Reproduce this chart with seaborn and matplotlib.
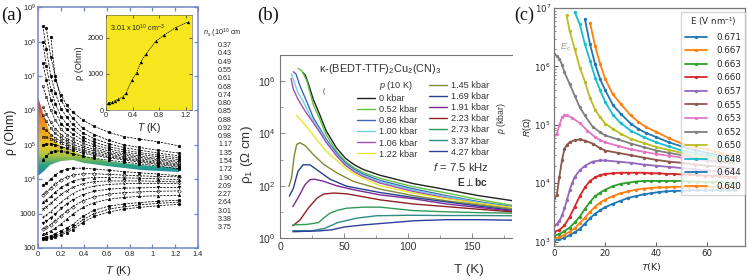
import numpy as np
import matplotlib
matplotlib.use("Agg")
import matplotlib.pyplot as plt
import seaborn as sns
from matplotlib.colors import LinearSegmentedColormap
from matplotlib.lines import Line2D
from matplotlib.patches import Polygon

W, H = 747, 280

# ---- panel a: log10(rho) on a shared temperature grid ----
temp_a = [0.04, 0.07, 0.11, 0.15, 0.2, 0.25, 0.3, 0.39, 0.49, 0.62, 0.75, 0.88, 1.05, 1.23]
nan = float("nan")
n037 = [nan, nan, 8.15, 6.88, 6.45, 6.15, 5.96, 5.72, 5.54, 5.36, 5.24, 5.17, 5.09, 4.97]
n043 = [nan, 8.39, 7.55, 7.0, 6.3, 6.0, 5.78, 5.48, 5.3, 5.13, 5.0, 4.93, 4.84, 4.76]
n049 = [8.46, 7.8, 7.0, 6.5, 6.05, 5.8, 5.6, 5.35, 5.18, 5.03, 4.92, 4.85, 4.76, 4.68]
n055 = [8.0, 7.3, 6.6, 6.2, 5.82, 5.6, 5.45, 5.22, 5.08, 4.95, 4.85, 4.78, 4.7, 4.62]
n061 = [7.37, 6.9, 6.3, 5.95, 5.62, 5.45, 5.32, 5.13, 5.0, 4.88, 4.79, 4.73, 4.65, 4.57]
n068 = [6.7, 6.4, 6.0, 5.72, 5.45, 5.3, 5.2, 5.05, 4.93, 4.82, 4.74, 4.68, 4.6, 4.52]
n074 = [6.1, 5.9, 5.65, 5.47, 5.3, 5.18, 5.1, 4.97, 4.87, 4.77, 4.7, 4.64, 4.57, 4.48]
n080 = [5.86, 5.68, 5.48, 5.33, 5.2, 5.1, 5.02, 4.91, 4.82, 4.73, 4.66, 4.6, 4.53, 4.44]
n085 = [5.48, 5.42, 5.3, 5.2, 5.1, 5.03, 4.95, 4.85, 4.77, 4.69, 4.62, 4.56, 4.49, 4.41]
n088 = [5.23, 5.22, 5.18, 5.12, 5.04, 4.97, 4.9, 4.81, 4.73, 4.65, 4.59, 4.53, 4.46, 4.38]
n092 = [5.0, 5.02, 5.03, 5.0, 4.95, 4.9, 4.84, 4.76, 4.69, 4.62, 4.56, 4.5, 4.43, 4.35]
n098 = [4.57, 4.68, 4.78, 4.82, 4.82, 4.78, 4.74, 4.67, 4.61, 4.55, 4.5, 4.45, 4.39, 4.3]
n117 = [3.83, 3.88, 4.0, 4.13, 4.24, 4.29, 4.32, 4.32, 4.3, 4.26, 4.22, 4.19, 4.15, 4.1]
n135 = [3.55, 3.62, 3.74, 3.86, 3.98, 4.06, 4.12, 4.16, 4.16, 4.14, 4.12, 4.1, 4.08, 4.07]
n154 = [3.34, 3.4, 3.5, 3.62, 3.76, 3.86, 3.94, 4.02, 4.05, 4.05, 4.04, 4.03, 4.01, 3.99]
n172 = [3.14, 3.2, 3.3, 3.42, 3.56, 3.67, 3.76, 3.87, 3.93, 3.95, 3.95, 3.95, 3.94, 3.92]
n190 = [2.9, 2.96, 3.06, 3.18, 3.33, 3.46, 3.58, 3.72, 3.8, 3.85, 3.87, 3.88, 3.88, 3.87]
n209 = [2.72, 2.78, 2.88, 3.0, 3.15, 3.28, 3.4, 3.55, 3.65, 3.71, 3.74, 3.75, 3.76, 3.76]
n227 = [2.55, 2.6, 2.68, 2.79, 2.93, 3.07, 3.2, 3.37, 3.49, 3.57, 3.61, 3.63, 3.65, 3.66]
n264 = [2.4, 2.44, 2.5, 2.58, 2.7, 2.84, 2.98, 3.18, 3.32, 3.42, 3.47, 3.5, 3.52, 3.53]
n301 = [2.3, 2.32, 2.36, 2.42, 2.5, 2.58, 2.68, 2.92, 3.1, 3.22, 3.28, 3.32, 3.36, 3.39]
n338 = [2.27, 2.29, 2.32, 2.36, 2.43, 2.5, 2.59, 2.82, 3.0, 3.13, 3.2, 3.25, 3.3, 3.33]
n375 = [2.25, 2.26, 2.28, 2.32, 2.38, 2.45, 2.53, 2.74, 2.92, 3.05, 3.13, 3.18, 3.23, 3.27]
curves_a = [n037, n043, n049, n055, n061, n068, n074, n080, n085, n088, n092, n098,
            n117, n135, n154, n172, n190, n209, n227, n264, n301, n338, n375]
labels_ns = ["0.37", "0.43", "0.49", "0.55", "0.61", "0.68", "0.74", "0.80", "0.85", "0.88", "0.92",
             "0.98", "1.17", "1.35", "1.54", "1.72", "1.90", "2.09", "2.27", "2.64", "3.01", "3.38", "3.75"]
band_temp = [0.0, 0.05, 0.1, 0.15, 0.2, 0.3, 0.4, 0.6, 0.9, 1.23]
band_top = [6.4, 5.85, 5.35, 5.12, 4.98, 4.82, 4.68, 4.52, 4.42, 4.32]
band_bot = [4.1, 4.25, 4.4, 4.48, 4.52, 4.55, 4.48, 4.38, 4.28, 4.2]

inset_temp = [0.03, 0.05, 0.09, 0.13, 0.18, 0.25, 0.3, 0.39, 0.46, 0.52, 0.6, 0.75, 0.88, 1.05, 1.23]
inset_rho = [200, 205, 225, 260, 300, 370, 470, 830, 1030, 1320, 1550, 1900, 2080, 2280, 2430]

# ---- panel b: (T, log10 rho) per pressure ----
b_0 = ([18, 20, 22, 26, 31, 36, 44, 51, 58, 65, 78, 104, 130, 155, 181],
       [6.33, 6.2, 5.92, 5.3, 4.72, 4.1, 3.45, 3.05, 2.8, 2.62, 2.4, 2.08, 1.85, 1.62, 1.43])
b_052 = ([14, 17, 21, 26, 31, 36, 44, 51, 58, 65, 78, 104, 130, 155, 181],
         [6.49, 6.4, 6.0, 5.1, 4.55, 3.95, 3.32, 2.93, 2.68, 2.5, 2.28, 1.96, 1.72, 1.47, 1.25])
b_086 = ([10.4, 12.5, 15.6, 21, 26, 31, 36, 44, 51, 58, 65, 78, 104, 130, 155, 181],
         [6.36, 6.27, 5.82, 5.2, 4.6, 4.2, 3.78, 3.25, 2.87, 2.62, 2.44, 2.2, 1.88, 1.62, 1.39, 1.2])
b_100 = ([9, 11.7, 14, 18, 23, 31, 36, 44, 51, 58, 65, 78, 104, 130, 155, 181],
         [6.27, 5.88, 5.56, 5.24, 4.73, 4.13, 3.72, 3.2, 2.82, 2.57, 2.39, 2.15, 1.83, 1.58, 1.36, 1.17])
b_106 = ([8.6, 10.4, 14, 19.5, 26, 31, 36, 44, 51, 58, 65, 78, 104, 130, 155, 181],
         [6.1, 5.69, 5.31, 4.86, 4.41, 4.05, 3.66, 3.15, 2.78, 2.53, 2.35, 2.1, 1.78, 1.53, 1.32, 1.14])
b_122 = ([13, 17, 23.4, 31, 36, 44, 51, 58, 65, 78, 104, 130, 155, 181],
         [4.69, 4.47, 4.09, 3.62, 3.32, 2.98, 2.68, 2.45, 2.28, 2.0, 1.72, 1.5, 1.33, 1.17])
b_145 = ([7, 9, 11, 13, 15.6, 19.5, 26, 34, 44, 57, 78, 104, 130, 155, 181],
         [1.97, 2.3, 3.12, 3.58, 3.64, 3.54, 3.19, 2.82, 2.5, 2.17, 1.87, 1.62, 1.42, 1.27, 1.1])
b_169 = ([7.3, 10.4, 14, 18, 23.4, 29, 39, 52, 78, 104, 130, 155, 181],
         [1.6, 1.9, 2.55, 2.8, 2.8, 2.6, 2.25, 1.98, 1.74, 1.55, 1.38, 1.22, 1.06])
b_191 = ([10, 14, 19.5, 23.4, 27, 34, 44, 57, 78, 104, 130, 155, 181],
         [1.2, 1.53, 2.04, 2.23, 2.25, 2.17, 2.0, 1.85, 1.65, 1.5, 1.3, 1.17, 1.03])
b_223 = ([10, 15.6, 22, 29, 34, 42, 52, 68, 78, 104, 130, 155, 181],
         [0.47, 0.69, 1.14, 1.53, 1.68, 1.72, 1.69, 1.55, 1.46, 1.3, 1.2, 1.1, 1.0])
b_273 = ([10, 21, 30, 35, 39, 45, 52, 65, 78, 104, 130, 155, 181],
         [0.5, 0.52, 0.59, 0.8, 0.95, 1.06, 1.14, 1.18, 1.18, 1.05, 1.0, 0.97, 0.95])
b_337 = ([10, 25, 35, 45, 60, 75, 100, 130, 155, 181],
         [0.28, 0.28, 0.37, 0.59, 0.76, 0.85, 0.87, 0.86, 0.86, 0.85])
b_427 = ([10, 30, 40, 50, 65, 85, 105, 130, 155, 181],
         [0.24, 0.27, 0.31, 0.42, 0.5, 0.58, 0.66, 0.7, 0.7, 0.68])
curves_b = [b_0, b_052, b_086, b_100, b_106, b_122, b_145, b_169, b_191, b_223, b_273, b_337, b_427]
labels_b = ["0 kbar", "0.52 kbar", "0.86 kbar", "1.00 kbar", "1.06 kbar", "1.22 kbar", "1.45 kbar",
            "1.69 kbar", "1.91 kbar", "2.23 kbar", "2.73 kbar", "3.37 kbar", "4.27 kbar"]
colors_b = ["#222222", "#5fc43c", "#3f66b8", "#6fd3dc", "#a24fb5", "#ece52e", "#7f8a33",
            "#26408f", "#7a2a9a", "#8f2222", "#2f9a55", "#2f8a88", "#2f3f9c"]

# ---- panel c: log10 R ----
t_low = [0, 2, 4, 6, 8, 10, 12, 14, 16, 18, 20, 23, 26, 29, 32, 35, 38, 41, 44, 47, 50, 53, 56, 59, 62, 65, 68, 71]
c_671 = [3.02, 3.04, 3.07, 3.11, 3.16, 3.22, 3.31, 3.4, 3.48, 3.54, 3.59, 3.65, 3.7, 3.75, 3.78, 3.81, 3.83, 3.85,
         3.86, 3.87, 3.87, 3.88, 3.88, 3.88, 3.88, 3.88, 3.88, 3.88]
c_667 = [3.05, 3.08, 3.12, 3.17, 3.23, 3.32, 3.41, 3.51, 3.6, 3.67, 3.72, 3.78, 3.83, 3.86, 3.89, 3.91, 3.92, 3.93,
         3.93, 3.94, 3.94, 3.94, 3.94, 3.94, 3.94, 3.94, 3.93, 3.93]
c_663 = [3.1, 3.13, 3.18, 3.24, 3.33, 3.43, 3.56, 3.68, 3.78, 3.84, 3.89, 3.95, 3.99, 4.01, 4.03, 4.04, 4.04, 4.04,
         4.04, 4.04, 4.04, 4.03, 4.03, 4.02, 4.02, 4.02, 4.01, 4.01]
c_660 = [3.17, 3.2, 3.28, 3.42, 3.6, 3.78, 3.93, 4.04, 4.1, 4.14, 4.16, 4.17, 4.18, 4.18, 4.18, 4.18, 4.17, 4.17,
         4.16, 4.16, 4.15, 4.15, 4.14, 4.13, 4.13, 4.12, 4.11, 4.1]
t_657 = [0, 1, 2, 3, 4, 5, 6, 7, 8, 10, 12, 15, 18, 20, 25, 30, 35, 40, 45, 50, 55, 60, 65, 70]
c_657 = [3.28, 3.3, 3.35, 3.45, 3.57, 3.72, 3.88, 4.0, 4.11, 4.22, 4.3, 4.37, 4.39, 4.39, 4.37, 4.35, 4.32, 4.3,
         4.28, 4.26, 4.24, 4.22, 4.2, 4.19]
t_655 = [0, 1, 2, 3, 4, 5, 6, 8, 10, 12, 15, 18, 20, 25, 30, 35, 40, 45, 50, 55, 60, 65, 70]
c_655 = [3.74, 3.8, 4.11, 4.39, 4.59, 4.66, 4.7, 4.74, 4.75, 4.73, 4.68, 4.6, 4.56, 4.52, 4.48, 4.44, 4.4, 4.37,
         4.35, 4.32, 4.3, 4.28, 4.26]
t_653 = [0, 1, 2, 3, 4, 5, 7, 10, 13, 16, 18, 20, 25, 30, 35, 40, 45, 50, 55, 60, 65, 70]
c_653 = [4.82, 4.85, 4.99, 5.13, 5.16, 5.16, 5.12, 5.03, 4.9, 4.79, 4.74, 4.7, 4.64, 4.58, 4.54, 4.5, 4.47, 4.44,
         4.41, 4.38, 4.36, 4.34]
t_652 = [0, 1, 2, 3, 4, 6, 8, 10, 12, 15, 18, 20, 25, 30, 35, 40, 45, 50, 55, 60, 65, 70]
c_652 = [6.21, 6.18, 6.13, 6.03, 5.9, 5.7, 5.5, 5.3, 5.16, 4.97, 4.87, 4.82, 4.75, 4.68, 4.62, 4.56, 4.52, 4.48,
         4.44, 4.4, 4.37, 4.35]
t_650 = [4.8, 6, 8, 10, 12, 14, 16, 18, 20, 23, 26, 30, 35, 40, 45, 50, 55, 60, 65, 70]
c_650 = [6.88, 6.61, 6.3, 5.98, 5.74, 5.46, 5.26, 5.13, 5.02, 4.93, 4.85, 4.76, 4.69, 4.62, 4.57, 4.52, 4.48, 4.45,
         4.41, 4.38]
t_648 = [8, 10, 12, 14, 16, 18, 20, 23, 26, 30, 35, 40, 45, 50, 55, 60, 65, 70]
c_648 = [6.93, 6.72, 6.38, 6.1, 5.81, 5.59, 5.39, 5.17, 5.03, 4.9, 4.79, 4.7, 4.63, 4.56, 4.52, 4.48, 4.44, 4.4]
t_644 = [12, 14, 16, 18, 20, 23, 26, 30, 33, 36, 40, 45, 50, 55, 60, 65, 70]
c_644 = [6.81, 6.38, 6.04, 5.78, 5.59, 5.34, 5.19, 5.02, 4.93, 4.86, 4.79, 4.7, 4.63, 4.57, 4.52, 4.48, 4.45]
t_640 = [14, 16, 18, 20, 23, 26, 30, 33, 36, 40, 45, 50, 55, 60, 65, 70]
c_640 = [6.75, 6.35, 6.04, 5.78, 5.52, 5.36, 5.16, 5.05, 4.96, 4.88, 4.77, 4.68, 4.62, 4.58, 4.52, 4.48]
curves_c = [(t_low, c_671), (t_low, c_667), (t_low, c_663), (t_low, c_660), (t_657, c_657), (t_655, c_655),
            (t_653, c_653), (t_652, c_652), (t_650, c_650), (t_648, c_648), (t_644, c_644), (t_640, c_640)]
labels_c = ["0.671", "0.667", "0.663", "0.660", "0.657", "0.655", "0.653", "0.652", "0.650", "0.648", "0.644", "0.640"]
colors_c = ["tab:blue", "tab:orange", "tab:green", "tab:red", "tab:purple", "tab:brown", "tab:pink", "tab:gray",
            "tab:olive", "tab:cyan", "tab:blue", "tab:orange"]

sns.set_theme(style="ticks")
plt.rcParams["font.family"] = ["Liberation Sans", "DejaVu Sans"]
plt.rcParams["mathtext.fontset"] = "custom"
plt.rcParams["mathtext.rm"] = "Liberation Sans"
plt.rcParams["mathtext.it"] = "Liberation Sans:italic"
plt.rcParams["mathtext.bf"] = "Liberation Sans:bold"

fig = plt.figure(figsize=(W / 100, H / 100), dpi=100)


def px_axes(left, top, right, bottom):
    return fig.add_axes([left / W, 1 - bottom / H, (right - left) / W, (bottom - top) / H])


def px_text(x, y, s, **kw):
    kw.setdefault("va", "center")
    return fig.text(x / W, 1 - y / H, s, **kw)


# -------------------------------------------
# (a) resistivity vs T, with gradient band
# -------------------------------------------
blue_edge = "#6f86c0"
ax_a = px_axes(38.3, 7.3, 198, 248)
ax_a.set_yscale("log")

band_cmap = LinearSegmentedColormap.from_list(
    "band", ["#1f86b5", "#2aa283", "#a9c23f", "#e8c82a", "#f0b020", "#f09a20", "#ee7d22", "#e5422a", "#e02020"])
yy = np.linspace(4.1, 6.4, 60)
mesh = ax_a.pcolormesh([0, 1.23], 10 ** yy, yy[:-1, None], cmap=band_cmap, zorder=1)
outline = list(zip(band_temp, 10 ** np.array(band_top))) + list(zip(band_temp[::-1], 10 ** np.array(band_bot[::-1])))
clip = Polygon(outline, transform=ax_a.transData, fill=False, edgecolor="none")
ax_a.add_patch(clip)
mesh.set_clip_path(clip)

markers_a = ["o", "o", "o", "o", "o", "s", "s", "s", "s", "s", "o", "o",
             "o", "D", "^", "x", "+", "v", "D", "^", "o", "v", "o"]
for i, vals in enumerate(curves_a):
    hollow = markers_a[i] == "s" or i in (13, 18, 21)
    sns.lineplot(x=temp_a, y=10 ** np.array(vals), ax=ax_a, color="black", lw=0.55, linestyle=(0, (3, 1.5)),
                 marker=markers_a[i], markersize=1.9, markeredgewidth=0.4, estimator=None, errorbar=None,
                 markerfacecolor="none" if hollow else "black", markeredgecolor="black", zorder=3, legend=False)

ax_a.set_xlim(0, 1.4)
ax_a.set_ylim(100, 1e9)
ax_a.set_xticks([0, 0.2, 0.4, 0.6, 0.8, 1, 1.2, 1.4], ["0", "0.2", "0.4", "0.6", "0.8", "1", "1.2", "1.4"])
ax_a.set_yticks([10.0 ** k for k in range(2, 10)],
                ["100", "1000"] + [f"$10^{{{k}}}$" for k in range(4, 10)])
ax_a.minorticks_off()
ax_a.tick_params(which="major", direction="in", top=True, right=True, length=3, width=0.9, color=blue_edge,
                 labelsize=5.3, pad=2, labelcolor="#222222")
for sp in ax_a.spines.values():
    sp.set_color(blue_edge)
    sp.set_linewidth(1.1)
ax_a.set_xlabel("")
ax_a.set_ylabel("")
px_text(118, 271, "$T$ (K)", fontsize=8.2, ha="center", color="#222222")
px_text(11, 132, "\u03c1 (Ohm)", fontsize=8.8, rotation=90, ha="center", color="#222222")

ins = px_axes(106, 15, 191.7, 110.3)
ins.set_facecolor("#f5e61d")
sns.lineplot(x=inset_temp, y=inset_rho, ax=ins, color="black", lw=0.5, linestyle=(0, (2, 1)), marker="^",
             markersize=2.4, markeredgewidth=0, markerfacecolor="black", estimator=None, errorbar=None, legend=False)
ins.set_xlim(0, 1.29)
ins.set_ylim(0, 2625)
ins.set_xticks([0, 0.4, 0.8, 1.2], ["0", "0.4", "0.8", "1.2"])
ins.set_yticks([0, 1000, 2000], ["0", "1000", "2000"])
ins.tick_params(direction="in", length=2, width=0.5, labelsize=5.2, pad=1.5, top=True, right=True, labelcolor="#222222")
for sp in ins.spines.values():
    sp.set_linewidth(0.4)
    sp.set_color("#555555")
ins.set_xlabel("")
ins.set_ylabel("")
px_text(110, 28, "3.01 x 10$^{10}$ cm$^{-3}$", fontsize=5.2, ha="left", color="#222222")
px_text(149, 128, "$T$ (K)", fontsize=7.4, ha="center", color="#222222")
px_text(80, 63, "\u03c1 (Ohm)", fontsize=6.6, rotation=90, ha="center", color="#222222")

px_text(203, 33, "$n_s$ (10$^{10}$ cm", fontsize=5.2, ha="left", color="#222222")
for i, lab in enumerate(labels_ns):
    px_text(218, 45.7 + i * 8.27, lab, fontsize=5.1, ha="left", color="#222222")
px_text(1.5, 15, "(a)", fontsize=13.5, ha="left", family="Liberation Serif", color="#111111")

# -------------------------------------------
# (b) rho_1 vs T under pressure
# -------------------------------------------
ax_b = px_axes(280, 55, 512, 238)
ax_b.set_yscale("log")
for (t, vals), lab, col in zip(curves_b, labels_b, colors_b):
    sns.lineplot(x=t, y=10 ** np.array(vals), ax=ax_b, color=col, lw=1.0, estimator=None, errorbar=None, label=lab)
ax_b.set_xlim(0, 181)
ax_b.set_ylim(1, 1e7)
ax_b.set_xticks([0, 50, 100, 150])
ax_b.set_xticks([25, 75, 125, 175], minor=True)
ax_b.set_yticks([1, 1e2, 1e4, 1e6], ["$10^{0}$", "$10^{2}$", "$10^{4}$", "$10^{6}$"])
ax_b.set_yticks([10, 1e3, 1e5, 1e7], minor=True)
ax_b.set_yticklabels([], minor=True)
ax_b.tick_params(which="major", direction="in", length=3.5, width=0.6, color="#777777", labelsize=7.6, pad=3,
                 labelcolor="#333333")
ax_b.tick_params(which="minor", direction="in", length=2, width=0.5, color="#777777")
for side, sp in ax_b.spines.items():
    sp.set_color("#777777")
    sp.set_linewidth(0.8)
ax_b.spines["right"].set_visible(False)
ax_b.set_xlabel("")
ax_b.set_ylabel("")

handles, labs = ax_b.get_legend_handles_labels()
blank = Line2D([], [], color="none")
leg_b = ax_b.legend([blank] + handles, ["$p$ (10 K)"] + labs, ncol=2, loc="upper left",
                    bbox_to_anchor=((357 - 280) / 232, (238 - 79) / 183), frameon=False, fontsize=6.6,
                    handlelength=1.96, handletextpad=0.4, labelspacing=0.23, columnspacing=1.34, borderpad=0,
                    borderaxespad=0, labelcolor="#333333")
px_text(319, 69, "\u03ba-(BEDT-TTF)$_2$Cu$_2$(CN)$_3$", fontsize=7.9, ha="left", color="#333333")
px_text(323, 92, "(", fontsize=5, ha="left", color="#333333")
px_text(489, 167, "$f$ = 7.5 kHz", fontsize=8.2, ha="right", color="#333333")
px_text(488, 182, "$\\mathbf{E} \\perp \\mathbf{bc}$", fontsize=7.4, ha="right", color="#333333")
px_text(502, 118, "$p$ (kbar)", fontsize=6.2, rotation=90, ha="center", color="#333333")
px_text(454, 270, "T (K)", fontsize=9.6, ha="left", color="#333333")
px_text(247, 155, "\u03c1$_1$ (\u03a9 cm)", fontsize=9.6, rotation=90, ha="center", color="#333333")
px_text(257, 15, "(b)", fontsize=13.5, ha="left", family="Liberation Serif", color="#111111")

# -------------------------------------------
# (c) R vs T for each displacement field
# -------------------------------------------
ax_c = px_axes(554.3, 8, 745, 246)
ax_c.set_yscale("log")
for (t, vals), lab, col in zip(curves_c, labels_c, colors_c):
    sns.lineplot(x=t, y=10 ** np.array(vals), ax=ax_c, color=col, lw=1.3, marker="o", markersize=2.4,
                 markeredgewidth=0, estimator=None, errorbar=None, label=lab)
ax_c.set_xlim(0, 74.8)
ax_c.set_ylim(10 ** 2.926, 1e7)
ax_c.set_xticks([0, 20, 40, 60], ["0", "20", "40", "60"])
ax_c.tick_params(which="major", direction="in", length=3, width=0.7, labelsize=6.2, pad=2.5, color="#555555",
                 labelfontfamily="DejaVu Sans")
ax_c.tick_params(which="minor", direction="in", length=1.6, width=0.5, color="#555555")
for sp in ax_c.spines.values():
    sp.set_color("#777777")
    sp.set_linewidth(0.9)
ax_c.set_xlabel("")
ax_c.set_ylabel("")
leg_c = ax_c.legend(title="E (V nm$^{-1}$)", loc="upper right", bbox_to_anchor=(1.0, 0.985), fontsize=6.3,
                    title_fontsize=6.3, framealpha=0.8, handlelength=2.6, handletextpad=1.0, labelspacing=0.52,
                    borderaxespad=0, borderpad=0.45, edgecolor="#cccccc", prop={"family": "DejaVu Sans", "size": 6.3})
leg_c.get_title().set_family("DejaVu Sans")
px_text(641, 267, "$T$(K)", fontsize=6.8, ha="left", family="DejaVu Sans", color="#222222")
px_text(527, 127, "$R(\\Omega)$", fontsize=6.2, rotation=90, ha="center", family="DejaVu Sans", color="#222222")
px_text(560, 47, "$E_c$", fontsize=6.5, ha="left", color="#999999")
px_text(514.5, 15, "(c)", fontsize=13, ha="left", family="Liberation Serif", color="#111111")

fig.savefig("out.png", dpi=100)
